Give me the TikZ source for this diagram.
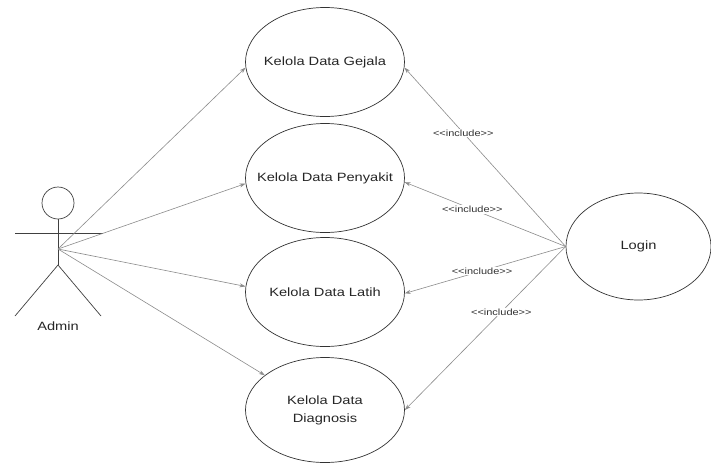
\documentclass[tikz,border=0pt]{standalone}
\usepackage{fontspec}
\setmainfont{Liberation Sans}
\newfontfamily\uf[FakeStretch=1.22]{Liberation Sans}
\usetikzlibrary{shapes.geometric,arrows.meta}
\begin{document}
\begin{tikzpicture}[x=1pt,y=-1pt,
  usecase/.style={ellipse,draw=black!80,line width=0.7pt,minimum width=159pt,minimum height=109pt,inner sep=0pt,
    label={[align=center,font=\uf\fontsize{12}{18}\selectfont,text=black!85]center:#1}},
  assoc/.style={draw=black!45,line width=0.6pt,-{Stealth[length=6pt,width=4pt]}},
  incl/.style={draw=black!45,line width=0.6pt,-{Stealth[length=6pt,width=4pt]}},
  inclabel/.style={fill=white,inner sep=1pt,font=\uf\fontsize{9}{10}\selectfont,text=black!80},
  actorline/.style={draw=black!75,line width=0.7pt}]
\useasboundingbox[fill=white] (0,0) rectangle (711,464);
% use cases
\node[usecase={Kelola Data Gejala}] (gejala) at (325,62) {};
\node[usecase={Kelola Data Penyakit}] (penyakit) at (325,178) {};
\node[usecase={Kelola Data Latih}] (latih) at (325,292) {};
\node[usecase={Kelola Data\\Diagnosis},minimum height=105pt] (diagnosis) at (325,410) {};
\node[usecase={Login},minimum width=145pt,minimum height=107pt] (login) at (638.5,246.5) {};
% actor
\draw[actorline] (58,203) circle (16);
\coordinate (neck) at (58,219);
\coordinate (hip) at (58,265);
\coordinate (hub) at (58,249);
\coordinate (larm) at (15,233);
\coordinate (rarm) at (103,233);
\coordinate (lfoot) at (15,316);
\coordinate (rfoot) at (101,316);
\draw[actorline] (neck) -- (hip);
\draw[actorline] (larm) -- (rarm);
\draw[actorline] (lfoot) -- (hip) -- (rfoot);
\node[font=\uf\fontsize{12}{14}\selectfont,text=black!85] (admin) at (58,326) {Admin};
% associations
\draw[assoc] (hub) -- (gejala.184);
\draw[assoc] (hub) -- (penyakit.184);
\draw[assoc] (hub) -- (latih.176);
\draw[assoc] (hub) -- (diagnosis.150);
% includes
\draw[incl] (login.west) -- (gejala.356) node[inclabel,pos=0.635] {<{}<include>{}>};
\draw[incl] (login.west) -- (penyakit.357) node[inclabel,pos=0.58] {<{}<include>{}>};
\draw[incl] (login.west) -- (latih.359) node[inclabel,pos=0.52] {<{}<include>{}>};
\draw[incl] (login.west) -- (diagnosis.0) node[inclabel,pos=0.40] {<{}<include>{}>};
\end{tikzpicture}
\end{document}
